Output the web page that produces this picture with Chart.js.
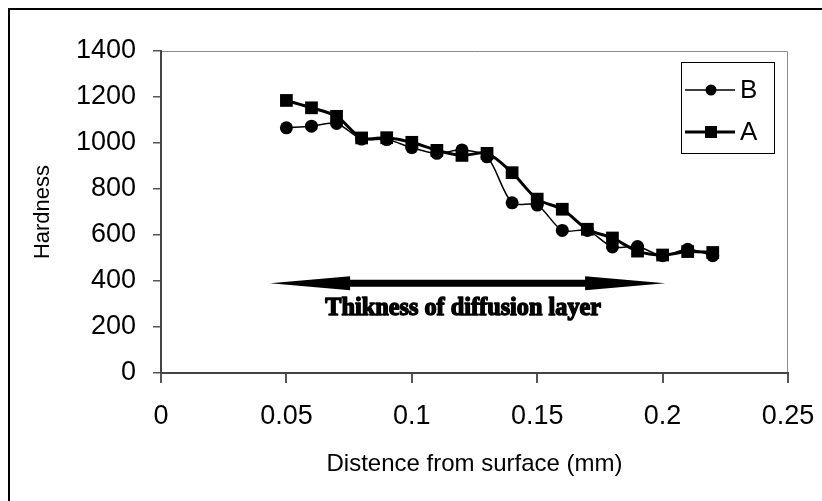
<!DOCTYPE html>
<html>
<head>
<meta charset="utf-8">
<script src="https://cdn.jsdelivr.net/npm/chart.js@4.4.1/dist/chart.umd.min.js"></script>
<style>
  html, body { margin: 0; padding: 0; background: #fff; overflow: hidden; }
  #wrap { width: 822px; height: 501px; }
</style>
</head>
<body>
<div id="wrap"><canvas id="chartDureza" width="822" height="501"></canvas></div>
<script>
// distancia desde la superficie (mm)
const distancias = [0.05, 0.06, 0.07, 0.08, 0.09, 0.10, 0.11, 0.12, 0.13, 0.14, 0.15, 0.16, 0.17, 0.18, 0.19, 0.20, 0.21, 0.22];
const durezaB = [1066, 1073, 1085, 1017, 1015, 980, 955, 970, 940, 740, 730, 620, 620, 548, 550, 510, 538, 510];
const durezaA = [1185, 1153, 1116, 1022, 1023, 1003, 968, 946, 955, 871, 756, 712, 625, 587, 530, 513, 528, 524];
const xTicks = [0, 0.05, 0.1, 0.15, 0.2, 0.25];
const yTicks = [0, 200, 400, 600, 800, 1000, 1200, 1400];
const nombres = ['B', 'A'];

// flecha "espesor de capa"
const textoCapa = 'Thikness of diffusion layer';
const flechaDesde = 0.0435, flechaHasta = 0.201, flechaY = 390;
const textoX = 0.1205, textoY = 280;

const fuente = "'Liberation Sans', Arial, sans-serif";

const decor = {
    id: 'decor',
    beforeDraw(chart) {
        const { ctx, chartArea: a } = chart;
        ctx.save();
        ctx.fillStyle = '#fff';
        ctx.fillRect(0, 0, chart.width, chart.height);
        // marco exterior (sale por la derecha y abajo)
        ctx.strokeStyle = '#000';
        ctx.lineWidth = 2;
        ctx.strokeRect(9, 9, 900, 600);
        // borde del area de trazado
        ctx.strokeStyle = '#8c8c8c';
        ctx.lineWidth = 1;
        ctx.beginPath();
        ctx.moveTo(a.left, a.top + 0.5);
        ctx.lineTo(a.right - 0.5, a.top + 0.5);
        ctx.lineTo(a.right - 0.5, a.bottom);
        ctx.stroke();
        ctx.restore();
    },
    afterDraw(chart) {
        const { ctx } = chart;
        const xs = chart.scales.x, ys = chart.scales.y;
        const x1 = xs.getPixelForValue(flechaDesde);
        const x2 = xs.getPixelForValue(flechaHasta);
        const y = ys.getPixelForValue(flechaY);
        const punta = 80, cab = 7, cuerpo = 3.5;
        ctx.save();
        ctx.fillStyle = '#000';
        ctx.beginPath();
        ctx.moveTo(x1, y);
        ctx.lineTo(x1 + punta, y - cab);
        ctx.lineTo(x1 + punta, y - cuerpo);
        ctx.lineTo(x2 - punta, y - cuerpo);
        ctx.lineTo(x2 - punta, y - cab);
        ctx.lineTo(x2, y);
        ctx.lineTo(x2 - punta, y + cab);
        ctx.lineTo(x2 - punta, y + cuerpo);
        ctx.lineTo(x1 + punta, y + cuerpo);
        ctx.lineTo(x1 + punta, y + cab);
        ctx.closePath();
        ctx.fill();

        // texto ajustado al ancho, engrosado con trazo
        let size = 18;
        ctx.font = `bold ${size}px 'Liberation Serif', serif`;
        const w = ctx.measureText(textoCapa).width;
        size = size * 276 / w;
        ctx.font = `bold ${size}px 'Liberation Serif', serif`;
        ctx.textAlign = 'center';
        ctx.textBaseline = 'middle';
        ctx.strokeStyle = '#000';
        ctx.lineWidth = 1.4;
        ctx.lineJoin = 'round';
        const tx = xs.getPixelForValue(textoX), ty = ys.getPixelForValue(textoY);
        ctx.strokeText(textoCapa, tx, ty);
        ctx.fillText(textoCapa, tx, ty);
        ctx.restore();

        // leyenda con recuadro
        const a = chart.chartArea;
        const lx = a.right - 107, ly = a.top + 11;
        ctx.save();
        ctx.strokeStyle = '#000';
        ctx.lineWidth = 1;
        ctx.strokeRect(lx + 0.5, ly + 0.5, 93, 91);
        ctx.font = `26px ${fuente}`;
        ctx.textBaseline = 'middle';
        ctx.textAlign = 'left';
        chart.data.datasets.forEach((ds, i) => {
            const yy = ly + 28 + i * 42;
            ctx.strokeStyle = '#000';
            ctx.lineWidth = ds.borderWidth;
            ctx.beginPath();
            ctx.moveTo(lx + 4, yy);
            ctx.lineTo(lx + 54, yy);
            ctx.stroke();
            ctx.fillStyle = '#000';
            if (ds.pointStyle === 'rect') {
                ctx.fillRect(lx + 24, yy - 6, 12, 12);
            } else {
                ctx.beginPath();
                ctx.arc(lx + 30, yy, 5.5, 0, Math.PI * 2);
                ctx.fill();
            }
            ctx.fillText(ds.label, lx + 59, yy + 1);
        });
        ctx.restore();
    }
};

const puntos = vals => distancias.map((x, i) => ({ x, y: vals[i] }));

new Chart(document.getElementById('chartDureza'), {
    type: 'line',
    data: {
        datasets: [
            {
                label: nombres[0],
                data: puntos(durezaB),
                borderColor: '#000',
                backgroundColor: '#000',
                borderWidth: 1.5,
                pointStyle: 'circle',
                pointRadius: 6.5,
                pointBorderWidth: 0,
                tension: 0.3
            },
            {
                label: nombres[1],
                data: puntos(durezaA),
                borderColor: '#000',
                backgroundColor: '#000',
                borderWidth: 3,
                pointStyle: 'rect',
                pointRadius: 9,
                pointBorderWidth: 0,
                tension: 0.3
            }
        ]
    },
    options: {
        responsive: false,
        animation: false,
        devicePixelRatio: 1,
        layout: { padding: { left: 0, top: 51, right: 34, bottom: 0 } },
        plugins: {
            legend: { display: false },
            tooltip: { enabled: false }
        },
        scales: {
            x: {
                type: 'linear',
                min: 0,
                max: 0.25,
                afterBuildTicks: s => { s.ticks = xTicks.map(v => ({ value: v })); },
                afterFit: s => { s.height = 128; s.paddingLeft = 0; s.paddingRight = 0; },
                ticks: {
                    color: '#000',
                    font: { family: fuente, size: 27 },
                    padding: 17,
                    maxRotation: 0,
                    callback: v => String(+v.toFixed(2))
                },
                grid: { drawOnChartArea: false, drawTicks: true, tickLength: 10, color: '#555', lineWidth: 2 },
                border: { display: true, color: '#444', width: 2 },
                title: {
                    display: true,
                    text: 'Distence from surface (mm)',
                    color: '#000',
                    font: { family: fuente, size: 24 },
                    padding: { top: 0, bottom: 22 }
                }
            },
            y: {
                min: 0,
                max: 1400,
                afterBuildTicks: s => { s.ticks = yTicks.map(v => ({ value: v })); },
                afterFit: s => { s.width = 161; s.paddingTop = 0; s.paddingBottom = 0; },
                ticks: {
                    color: '#000',
                    font: { family: fuente, size: 27 },
                    padding: 17,
                    callback: v => String(v)
                },
                grid: { drawOnChartArea: false, drawTicks: true, tickLength: 8, color: '#555', lineWidth: 1.5 },
                border: { display: true, color: '#444', width: 2 },
                title: {
                    display: true,
                    text: 'Hardness',
                    color: '#000',
                    font: { family: fuente, size: 22 },
                    padding: { top: 30, bottom: 0 }
                }
            }
        }
    },
    plugins: [decor]
});
</script>
</body>
</html>
